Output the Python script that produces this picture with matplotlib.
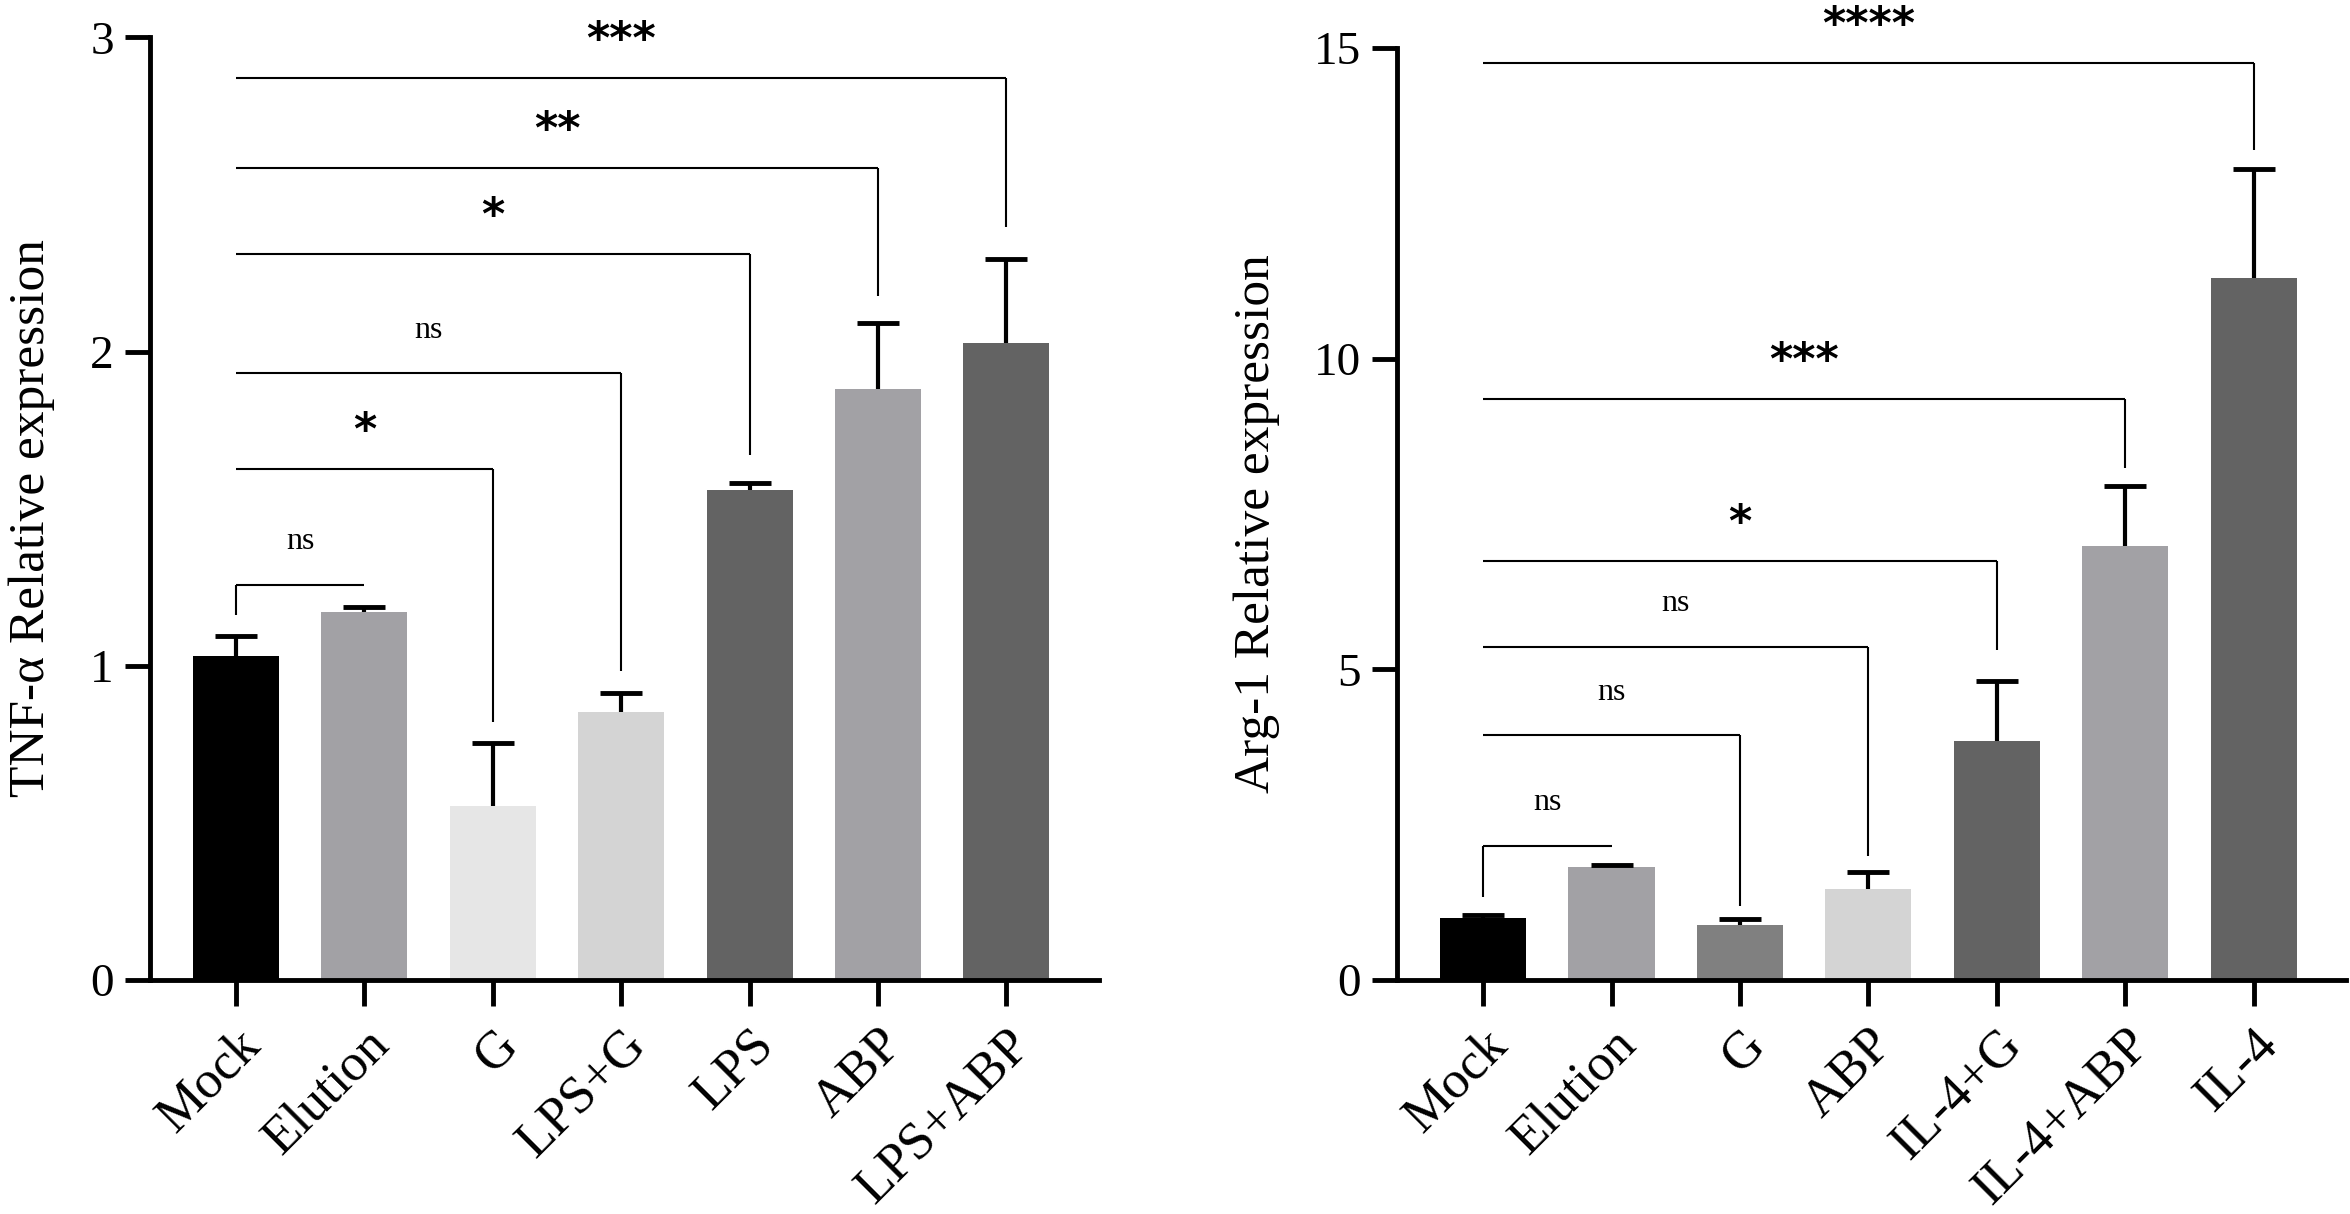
import numpy as np
import matplotlib
matplotlib.use('Agg')
import matplotlib.pyplot as plt

plt.rcParams['font.family'] = ['Liberation Serif', 'DejaVu Serif']

# Painel esquerdo: TNF-α
tnf_groups = ['Mock', 'Elution', 'G', 'LPS+G', 'LPS', 'ABP', 'LPS+ABP']
tnf_mean = [1.03, 1.17, 0.555, 0.852, 1.56, 1.88, 2.027]
tnf_err = [0.065, 0.017, 0.20, 0.061, 0.022, 0.211, 0.268]
tnf_colors = ['#000000', '#a2a1a5', '#e6e6e6', '#d4d4d4', '#636363', '#a2a1a5', '#636363']
tnf_target = [1, 2, 3, 4, 5, 6]
tnf_sig = ['ns', '*', 'ns', '*', '**', '***']
tnf_line_y = [1.258, 1.625, 1.931, 2.31, 2.584, 2.872]
tnf_leg_at = [0, 2, 3, 4, 5, 6]
tnf_leg_end = [1.162, 0.82, 0.984, 1.67, 2.177, 2.396]

# Painel direito: Arg-1
arg_groups = ['Mock', 'Elution', 'G', 'ABP', 'IL-4+G', 'IL-4+ABP', 'IL-4']
arg_mean = [0.99, 1.81, 0.89, 1.46, 3.85, 6.99, 11.30]
arg_err = [0.06, 0.04, 0.09, 0.28, 0.96, 0.96, 1.75]
arg_colors = ['#000000', '#a2a1a5', '#808080', '#d4d4d4', '#636363', '#a2a1a5', '#636363']
arg_target = [1, 2, 3, 4, 5, 6]
arg_sig = ['ns', 'ns', 'ns', '*', '***', '****']
arg_line_y = [2.155, 3.94, 5.36, 6.74, 9.35, 14.75]
arg_leg_at = [0, 2, 3, 4, 5, 6]
arg_leg_end = [1.34, 1.19, 1.99, 5.31, 8.24, 13.35]


def painel(ax, groups, mean, err, colors, target, sig, line_y, leg_at, leg_end,
           ymax, yticks, ylabel, label_x):
    x = np.arange(len(groups))
    mean = np.array(mean)
    topo = mean + np.array(err)
    ax.bar(x, mean, width=0.67, color=colors, edgecolor='none', zorder=2)
    # erro so para cima, com tampa apenas no topo
    ax.vlines(x, mean, topo, color='black', lw=3, zorder=3)
    ax.plot(x, topo, linestyle='none', marker='_', markersize=30, markeredgewidth=3.5,
            color='black', zorder=3)

    # barras de significancia
    for t, s, yl, la, le in zip(target, sig, line_y, leg_at, leg_end):
        ax.plot([x[0], x[t]], [yl, yl], color='black', lw=1.5, solid_capstyle='butt',
                clip_on=False, zorder=4)
        ax.plot([x[la], x[la]], [yl, le], color='black', lw=1.5, solid_capstyle='butt',
                clip_on=False, zorder=4)
        if s == 'ns':
            ax.annotate(s, xy=((x[0] + x[t]) / 2, yl), xytext=(0, 31), textcoords='offset points',
                        ha='center', va='center', fontsize=23, annotation_clip=False)
        else:
            ax.annotate(s, xy=((x[0] + x[t]) / 2, yl), xytext=(0, 27), textcoords='offset points',
                        ha='center', va='center', fontsize=32, fontweight='bold',
                        family=['DejaVu Sans'], annotation_clip=False)

    ax.set_xlim(-0.67, len(groups) - 1 + 0.72)
    ax.set_ylim(0, ymax)
    ax.set_yticks(yticks)
    ax.set_xticks(x)
    ax.set_xticklabels(groups, rotation=45, ha='right', va='top', rotation_mode='anchor',
                       fontsize=38)
    ax.tick_params(axis='x', length=19, width=3.5, pad=10)
    ax.tick_params(axis='y', length=18, width=3.5, pad=8, labelsize=34)
    for sp in ['top', 'right']:
        ax.spines[sp].set_visible(False)
    for sp in ['left', 'bottom']:
        ax.spines[sp].set_linewidth(3.5)
    ax.set_ylabel(ylabel, fontsize=37)
    ax.yaxis.set_label_coords(label_x, 0.49)


fig = plt.figure(figsize=(23.5, 12.14), dpi=100)
ax1 = fig.add_axes([0.0638, 0.1928, 0.4038, 0.7764])
ax2 = fig.add_axes([0.5945, 0.1928, 0.4038, 0.7677])

painel(ax1, tnf_groups, tnf_mean, tnf_err, tnf_colors, tnf_target, tnf_sig, tnf_line_y,
       tnf_leg_at, tnf_leg_end, 3, [0, 1, 2, 3], 'TNF-α Relative expression', -0.10)
painel(ax2, arg_groups, arg_mean, arg_err, arg_colors, arg_target, arg_sig, arg_line_y,
       arg_leg_at, arg_leg_end, 15, [0, 5, 10, 15], 'Arg-1 Relative expression', -0.123)

fig.savefig('out.png', dpi=100)
